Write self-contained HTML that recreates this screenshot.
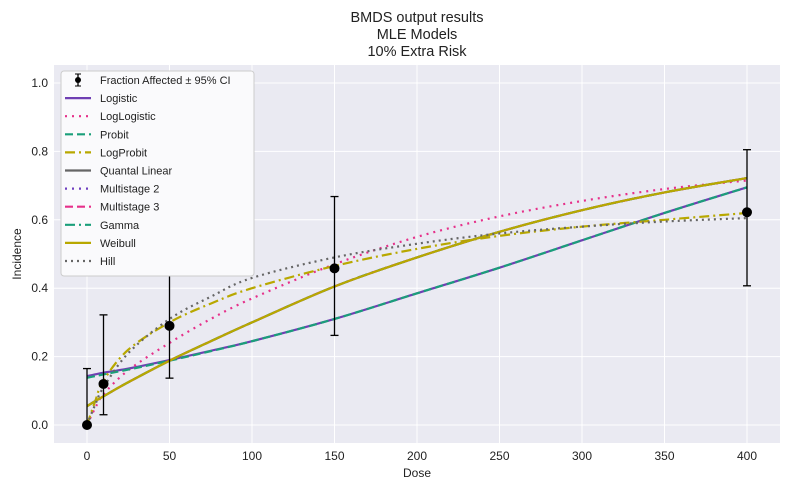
<!DOCTYPE html>
<html><head><meta charset="utf-8"><style>
body{margin:0;background:#fff;font-family:"Liberation Sans",sans-serif}
svg text{font-family:"Liberation Sans",sans-serif;fill:#222}
</style></head><body>
<svg id="c" width="790" height="490"></svg>
<script>
const doses=[0,10,50,150,400];
const frac=[0,0.12,0.29,0.458,0.622];
const ciLow=[0,0.03,0.137,0.262,0.407];
const ciHigh=[0.165,0.322,0.513,0.668,0.805];
const curveX=[0,5,10,25,50,75,100,150,200,250,300,350,400];
const logistic=[0.143,0.148,0.153,0.165,0.19,0.217,0.245,0.31,0.385,0.46,0.54,0.62,0.695];
const probit=[0.138,0.143,0.148,0.162,0.188,0.216,0.245,0.31,0.385,0.46,0.54,0.62,0.695];
const loglogistic=[0,0.05,0.09,0.16,0.24,0.31,0.37,0.47,0.55,0.61,0.655,0.69,0.715];
const logprobit=[0,0.07,0.13,0.22,0.30,0.355,0.40,0.465,0.515,0.553,0.58,0.60,0.62];
const quantal=[0.055,0.07,0.084,0.125,0.188,0.245,0.30,0.405,0.49,0.565,0.628,0.68,0.722];
const hill=[0,0.06,0.11,0.21,0.31,0.375,0.43,0.49,0.53,0.56,0.58,0.595,0.605];
const xTicks=[0,50,100,150,200,250,300,350,400];
const yTicks=[0,0.2,0.4,0.6,0.8,1.0];
const L=54,R=780,T=65,B=443;
const X=v=>87+v*1.65, Y=v=>425-v*342;
const svg=document.getElementById('c');const NS='http://www.w3.org/2000/svg';
function el(t,a,p){const e=document.createElementNS(NS,t);for(const k in a)e.setAttribute(k,a[k]);(p||svg).appendChild(e);return e;}
let e=el('rect',{x:L,y:T,width:R-L,height:B-T,fill:'#eaeaf2'});

xTicks.forEach(t=>{el('line',{x1:X(t),x2:X(t),y1:T,y2:B,stroke:'#fff','stroke-width':1});
 const tx=el('text',{x:X(t),y:460,'text-anchor':'middle','font-size':12});tx.textContent=t;
 });
yTicks.forEach(t=>{el('line',{x1:L,x2:R,y1:Y(t),y2:Y(t),stroke:'#fff','stroke-width':1});
 const tx=el('text',{x:48,y:Y(t)+4,'text-anchor':'end','font-size':12});tx.textContent=t.toFixed(1);
 });
function smooth(pts){let d='M'+pts[0][0]+','+pts[0][1];
 for(let i=0;i<pts.length-1;i++){const p0=pts[i-1]||pts[i],p1=pts[i],p2=pts[i+1],p3=pts[i+2]||p2;
  const c1x=p1[0]+(p2[0]-p0[0])/6,c1y=p1[1]+(p2[1]-p0[1])/6,c2x=p2[0]-(p3[0]-p1[0])/6,c2y=p2[1]-(p3[1]-p1[1])/6;
  d+=' C'+c1x+','+c1y+' '+c2x+','+c2y+' '+p2[0]+','+p2[1];}return d;}
function line(vals,color,dash,name){const p=el('path',{d:smooth(curveX.map((x,i)=>[X(x),Y(vals[i])])),fill:'none',stroke:color,'stroke-width':2.2,'stroke-dasharray':dash||''});
 }
line(logistic,'#6f3fb3','','logistic-curve');
line(loglogistic,'#e6308a','2 5','loglogistic-curve');
line(probit,'#1a9f7a','8 4','probit-curve');
line(logprobit,'#b8a800','10 4 2 4','logprobit-curve');
line(quantal,'#666','','quantal-linear-curve');
line(quantal,'#7040c0','2 5','multistage2-curve');
line(quantal,'#e6308a','8 4','multistage3-curve');
line(quantal,'#1a9f7a','10 4 2 4','gamma-curve');
line(quantal,'#b8a800','','weibull-curve');
line(hill,'#666','2 4','hill-curve');
doses.forEach((d,i)=>{const g=el('g',{});
 el('line',{x1:X(d),x2:X(d),y1:Y(ciLow[i]),y2:Y(ciHigh[i]),stroke:'#000','stroke-width':1.3},g);
 el('line',{x1:X(d)-4,x2:X(d)+4,y1:Y(ciLow[i]),y2:Y(ciLow[i]),stroke:'#000','stroke-width':1.3},g);
 el('line',{x1:X(d)-4,x2:X(d)+4,y1:Y(ciHigh[i]),y2:Y(ciHigh[i]),stroke:'#000','stroke-width':1.3},g);
 el('circle',{cx:X(d),cy:Y(frac[i]),r:5,fill:'#000'},g);});
const lg=el('g',{});
el('rect',{x:61,y:71,width:193,height:205,rx:3,fill:'#fafafc',stroke:'#ccc','stroke-width':1},lg);
const items=[['Fraction Affected ± 95% CI',null],['Logistic','#6f3fb3',''],['LogLogistic','#e6308a','2 5'],['Probit','#1a9f7a','8 4'],['LogProbit','#b8a800','10 4 2 4'],['Quantal Linear','#666',''],['Multistage 2','#7040c0','2 5'],['Multistage 3','#e6308a','8 4'],['Gamma','#1a9f7a','10 4 2 4'],['Weibull','#b8a800',''],['Hill','#666','2 4']];
items.forEach((it,i)=>{const y=80+i*18.1;const g=el('g',{},lg);
 
 if(!it[1]){el('line',{x1:78,x2:78,y1:y-6,y2:y+6,stroke:'#000','stroke-width':1.3},g);el('line',{x1:75,x2:81,y1:y-6,y2:y-6,stroke:'#000'},g);el('line',{x1:75,x2:81,y1:y+6,y2:y+6,stroke:'#000'},g);el('circle',{cx:78,cy:y,r:3,fill:'#000'},g);}
 else el('line',{x1:65,x2:91,y1:y,y2:y,stroke:it[1],'stroke-width':2.2,'stroke-dasharray':it[2]},g);
 const t=el('text',{x:100,y:y+4,'font-size':11},g);t.textContent=it[0];});
function txt(s,a,n){const t=el('text',a);t.textContent=s;return t;}
txt('BMDS output results',{x:417,y:22,'text-anchor':'middle','font-size':14.5},'chart-title');
txt('MLE Models',{x:417,y:39,'text-anchor':'middle','font-size':14.5},'chart-subtitle');
txt('10% Extra Risk',{x:417,y:56,'text-anchor':'middle','font-size':14.5},'chart-subtitle-2');
txt('Dose',{x:417,y:477,'text-anchor':'middle','font-size':12},'x-axis-title');
txt('Incidence',{x:21,y:254,'text-anchor':'middle','font-size':12,transform:'rotate(-90 21 254)'},'y-axis-title');
</script></body></html>
